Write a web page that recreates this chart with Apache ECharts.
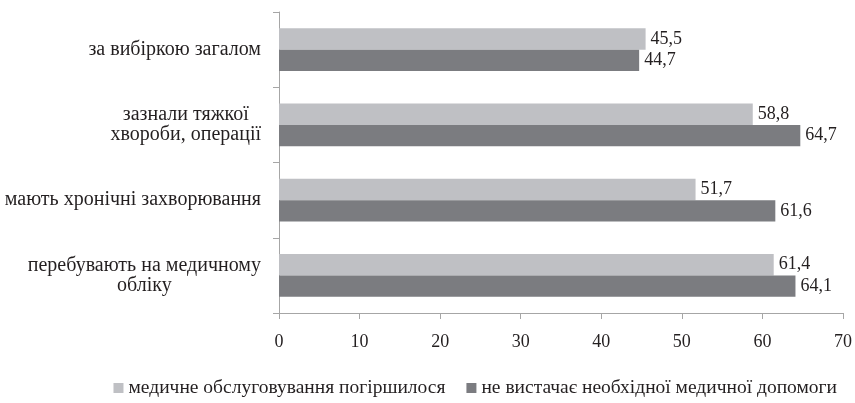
<!DOCTYPE html>
<html>
<head>
<meta charset="utf-8">
<script src="https://cdn.jsdelivr.net/npm/echarts@6/dist/echarts.min.js"></script>
<style>
  html, body { margin: 0; padding: 0; background: #fff; }
  #box { width: 855px; height: 403px; }
</style>
</head>
<body>
<div id="box"></div>
<script>
var categories = [
    'за вибіркою загалом',
    'зазнали тяжкої\nхвороби, операції',
    'мають хронічні захворювання',
    'перебувають на медичному\nобліку'
];
var seriesNames = ['медичне обслуговування погіршилося', 'не вистачає необхідної медичної допомоги'];
var worseValues = [45.5, 58.8, 51.7, 61.4];
var lackValues = [44.7, 64.7, 61.6, 64.1];
var xTicks = [0, 10, 20, 30, 40, 50, 60, 70];

var font = '"Liberation Serif", "Times New Roman", serif';
var textColor = '#231f20';
var axisColor = '#a6a6a6';

var myChart = echarts.init(document.getElementById('box'));

// підпис значення з комою замість крапки
var labelOption = {
    show: true,
    position: 'right',
    distance: 5,
    fontFamily: font,
    fontSize: 18,
    color: textColor,
    formatter: function (p) {
        return p.value.toFixed(1).replace('.', ',');
    }
};

var option = {
    animation: false,
    color: ['#bfc0c4', '#7b7c80'],
    textStyle: { fontFamily: font },
    grid: {
        left: 279,
        right: 12,
        top: 12,
        bottom: 90
    },
    legend: {
        top: 373,
        right: 13,
        icon: 'rect',
        itemWidth: 10,
        itemHeight: 10,
        itemGap: 21,
        textStyle: { fontFamily: font, fontSize: 19.5, color: textColor },
        data: seriesNames
    },
    xAxis: {
        type: 'value',
        min: xTicks[0],
        max: xTicks[xTicks.length - 1],
        interval: 10,
        splitLine: { show: false },
        axisLine: { show: true, lineStyle: { color: axisColor, width: 1 } },
        axisTick: { show: true, length: 6, lineStyle: { color: axisColor } },
        axisLabel: {
            margin: 20,
            fontFamily: font,
            fontSize: 18,
            color: textColor
        }
    },
    yAxis: {
        type: 'category',
        inverse: true,
        data: categories,
        axisLine: { show: true, lineStyle: { color: axisColor, width: 1 } },
        axisTick: { show: true, length: 6, lineStyle: { color: axisColor } },
        axisLabel: {
            margin: 18,
            lineHeight: 20,
            formatter: function (v) {
                return v.split('\n').map(function (l) { return '{c|' + l + '}'; }).join('\n');
            },
            rich: {
                c: {
                    align: 'center',
                    fontFamily: font,
                    fontSize: 20,
                    lineHeight: 20,
                    color: textColor
                }
            }
        }
    },
    series: [
        {
            name: seriesNames[0],
            type: 'bar',
            barGap: 0,
            barCategoryGap: '43%',
            label: labelOption,
            data: worseValues
        },
        {
            name: seriesNames[1],
            type: 'bar',
            barGap: 0,
            barCategoryGap: '43%',
            label: labelOption,
            data: lackValues
        }
    ]
};

myChart.setOption(option);
</script>
</body>
</html>
